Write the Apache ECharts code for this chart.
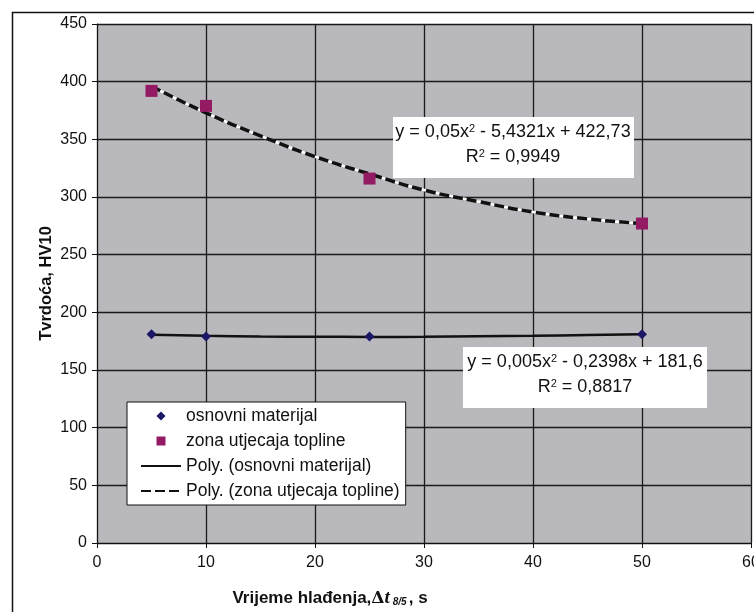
<!DOCTYPE html>
<html>
<head>
<meta charset="utf-8">
<script src="https://cdn.jsdelivr.net/npm/echarts@6/dist/echarts.min.js"></script>
<style>
  html, body { margin: 0; padding: 0; background: #fff; }
  #chart { width: 754px; height: 612px; }
</style>
</head>
<body>
<div id="chart"></div>
<script>
// measured points
var osnovni = [[5, 181], [10, 179], [25, 179], [50, 181]];
var zona = [[5, 392], [10, 379], [25, 316], [50, 277]];
// trend lines
var polyOsnovni = [[5, 180.5], [10, 179.6], [15, 179], [20, 178.8], [25, 178.7], [30, 178.8], [35, 179.2], [40, 179.6], [45, 180.3], [50, 181.1]];
var polyZona = [[5, 396], [10, 373], [15, 353], [20, 335], [25, 320], [30, 306], [35, 296], [40, 287], [45, 281], [50, 277]];
var eqZona = ["y = 0,05x{sup|2} - 5,4321x + 422,73", "R{sup|2} = 0,9949"];
var eqOsnovni = ["y = 0,005x{sup|2} - 0,2398x + 181,6", "R{sup|2} = 0,8817"];

var myChart = echarts.init(document.getElementById("chart"));
var font = "Liberation Sans, Arial, sans-serif";
var eqRich = { sup: { fontSize: 11, fontFamily: font, fill: "#111", padding: [0, 0, 8, 0] } };

function eqLine(text, cx, y) {
  return {
    type: "text", x: cx, y: y, z: 101,
    style: {
      text: text, fontSize: 18, fontFamily: font, fill: "#111",
      align: "center", verticalAlign: "top", rich: eqRich
    }
  };
}

var option = {
  animation: false,
  textStyle: { fontFamily: font },
  grid: {
    left: 97, right: 3, top: 24, bottom: 69, outerBoundsMode: "none",
    show: true, backgroundColor: "#b9b9bd", borderWidth: 0
  },
  xAxis: {
    type: "value", min: 0, max: 60, interval: 10,
    name: "Vrijeme hlađenja,{d|Δ}{t|t}{s|8/5}, s",
    nameLocation: "middle", nameGap: 46, nameMoveOverlap: false,
    nameTextStyle: {
      fontFamily: font, fontSize: 17, fontWeight: "bold", color: "#111",
      padding: [0, 188, 0, 0],
      rich: {
        d: { fontFamily: "DejaVu Serif", fontSize: 17, color: "#111" },
        t: { fontFamily: "Liberation Serif", fontSize: 19, fontStyle: "italic", fontWeight: "bold", color: "#111" },
        s: { fontFamily: font, fontSize: 10, fontStyle: "italic", fontWeight: "bold", color: "#111", padding: [8, 2, 0, 3] }
      }
    },
    axisLine: { show: true, onZero: false, lineStyle: { color: "#111", width: 1 } },
    axisTick: { show: true, length: 5, lineStyle: { color: "#111" } },
    axisLabel: { color: "#111", fontSize: 16, margin: 12 },
    splitLine: { show: true, lineStyle: { color: "#1a1a1a", width: 1.3 } }
  },
  yAxis: {
    type: "value", min: 0, max: 450, interval: 50,
    name: "Tvrdoća, HV10",
    nameLocation: "middle", nameGap: 42, nameRotate: 90, nameMoveOverlap: false,
    nameTextStyle: { fontFamily: font, fontSize: 16.5, fontWeight: "bold", color: "#111" },
    axisLine: { show: true, lineStyle: { color: "#111", width: 1 } },
    axisTick: { show: true, length: 5, lineStyle: { color: "#111" } },
    axisLabel: { color: "#111", fontSize: 16, margin: 10 },
    splitLine: { show: true, lineStyle: { color: "#1a1a1a", width: 1.3 } }
  },
  legend: {
    orient: "vertical",
    left: 127, top: 402,
    padding: [4, 6, 4, 13],
    backgroundColor: "#fff",
    borderColor: "#111", borderWidth: 1,
    itemWidth: 40, itemHeight: 12, itemGap: 5,
    symbolKeepAspect: true,
    textStyle: { fontFamily: font, fontSize: 17.5, lineHeight: 20, color: "#111" },
    data: [
      { name: "osnovni materijal", icon: "path://M0,0M40,12M20,1.5L24.5,6L20,10.5L15.5,6Z" },
      { name: "zona utjecaja topline", icon: "path://M0,0M40,12M15.5,1.5L24.5,1.5L24.5,10.5L15.5,10.5Z" },
      { name: "Poly. (osnovni materijal)" },
      { name: "Poly. (zona utjecaja topline)" }
    ]
  },
  series: [
    {
      name: "Poly. (osnovni materijal)", type: "line", smooth: true, symbol: "none",
      lineStyle: { color: "#111", width: 2.5 }, itemStyle: { color: "rgba(0,0,0,0)" }, z: 3,
      data: polyOsnovni
    },
    {
      name: "_zona_under", type: "line", smooth: true, symbol: "none",
      lineStyle: { color: "#fff", width: 2.5 }, z: 3, silent: true,
      data: polyZona
    },
    {
      name: "Poly. (zona utjecaja topline)", type: "line", smooth: true, symbol: "none",
      lineStyle: { color: "#111", width: 3.5, type: [10, 4] }, itemStyle: { color: "rgba(0,0,0,0)" }, z: 4,
      data: polyZona
    },
    {
      name: "osnovni materijal", type: "scatter", symbol: "diamond", symbolSize: 10,
      itemStyle: { color: "#1c1666", opacity: 1 }, z: 5,
      data: osnovni
    },
    {
      name: "zona utjecaja topline", type: "scatter", symbol: "rect", symbolSize: 12,
      itemStyle: { color: "#931a63", opacity: 1 }, z: 5,
      data: zona
    }
  ],
  graphic: [
    { type: "rect", left: 10, top: 10, shape: { width: 760, height: 620 }, style: { fill: null, stroke: "#111", lineWidth: 1.5 }, z: -10, silent: true },
    { type: "rect", left: 393, top: 117, shape: { width: 241, height: 61 }, style: { fill: "#fff" }, z: 100 },
    eqLine(eqZona[0], 513, 123),
    eqLine(eqZona[1], 513, 148),
    { type: "rect", left: 463, top: 347, shape: { width: 244, height: 61 }, style: { fill: "#fff" }, z: 100 },
    eqLine(eqOsnovni[0], 585, 353),
    eqLine(eqOsnovni[1], 585, 378)
  ]
};
myChart.setOption(option);
</script>
</body>
</html>
